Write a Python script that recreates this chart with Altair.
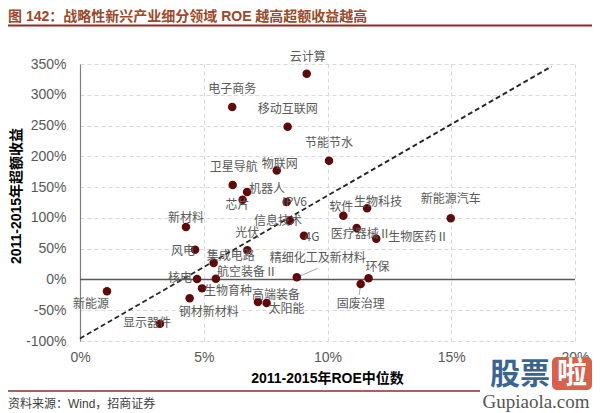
import altair as alt
import pandas as pd

# ---------------- data ----------------
names = ["云计算", "电子商务", "移动互联网", "节能节水", "物联网", "卫星导航", "机器人", "芯片",
         "IPV6", "信息技术", "4G", "软件", "生物科技", "医疗器械Ⅱ", "生物医药Ⅱ", "新能源汽车",
         "环保", "固废治理", "精细化工及新材料", "新材料", "光伏", "风电", "集成电路", "核电",
         "航空装备Ⅱ", "生物育种", "新能源", "钢材新材料", "高端装备", "太阳能", "显示器件"]
roe = [9.16, 6.15, 8.39, 10.06, 7.95, 6.17, 6.75, 6.57,
       8.35, 8.48, 9.05, 10.64, 11.60, 11.18, 11.97, 14.98,
       11.66, 11.34, 8.76, 4.28, 6.76, 4.65, 5.40, 4.73,
       5.49, 4.93, 1.09, 4.43, 7.19, 7.54, 3.23]
excess = [334, 280, 248, 193, 177, 153.5, 142, 129.6,
          126, 95.5, 71, 103.6, 115.5, 83.7, 66.3, 99.3,
          1.8, -7.3, 3.4, 85.3, 47.3, 48.4, 26.8, 0.8,
          1.3, -14.5, -19.3, -30.7, -36.5, -38.2, -71.8]

# label placement offsets in pixels (layout only)
label_dx = [1, 0, 0, 0, 3, 1, 20, -5,
            8, -12, 8, -2, 11, 4, 42, 0,
            9, 0, 21, 0, 0, -12, 17, -17,
            31, 26, -16, 19, 18, 20, -13]
label_dy = [-17, -18, -18, -18, -6, -18, -3, 5,
            0, 0, 1, -9, -6, 6, -2, -19,
            -11, 20, -19, -9, -17, 1, -7, -1,
            -7, 3, 13, 14, -7, 6, -1]

diag_x = [0, 19.05]
diag_y = [-96, 346]

x_ticks = [0, 5, 10, 15, 20]
y_ticks = [-100, -50, 0, 50, 100, 150, 200, 250, 300, 350]

title_text = "图 142：战略性新兴产业细分领域 ROE 越高超额收益越高"
x_title = "2011-2015年ROE中位数"
y_title = "2011-2015年超额收益"
source_text = "资料来源：Wind，招商证券"

# ---------------- layout ----------------
W, H = 495, 277
X_DOM = [0, 20]
Y_DOM = [-100, 350]
ppx = (X_DOM[1] - X_DOM[0]) / W
ppy = (Y_DOM[1] - Y_DOM[0]) / H

df = pd.DataFrame({"name": names, "roe": roe, "excess": excess,
                   "dx": label_dx, "dy": label_dy})
df["lx"] = df["roe"] + df["dx"] * ppx
df["ly"] = df["excess"] - df["dy"] * ppy

xs = alt.Scale(domain=X_DOM, nice=False, zero=False)
ys = alt.Scale(domain=Y_DOM, nice=False, zero=False)

LAT = "Liberation Sans, Noto Sans CJK SC"
CJK = "Noto Sans CJK SC"
GRAY = "#595959"

x_axis = alt.Axis(values=x_ticks, labelExpr="datum.value + '%'", grid=True,
                  gridDash=[4, 3], gridColor="#d9d9d9", domain=False, ticks=False,
                  labelFontSize=14, labelColor=GRAY, labelFont=LAT, labelPadding=9,
                  labelFlush=False, labelOverlap=False, title=None)
y_axis = alt.Axis(values=y_ticks, labelExpr="datum.value + '%'", grid=True,
                  gridDash=[4, 3], gridColor="#d9d9d9", domain=True, domainColor="#7f7f7f",
                  domainWidth=1.2, ticks=False, labelFontSize=14, labelColor=GRAY,
                  labelFont=LAT, labelPadding=14, labelFlush=False, labelOverlap=False,
                  title=None)


def X(f):
    return alt.X(f, scale=xs, axis=x_axis)


def Y(f):
    return alt.Y(f, scale=ys, axis=y_axis)


base = alt.Chart(df)

points = base.mark_circle(size=72, color="#5e0a0a", opacity=1).encode(
    x=X("roe:Q"), y=Y("excess:Q"))

zero = alt.Chart(pd.DataFrame({"z": [0]})).mark_rule(color="#595959", strokeWidth=1.5).encode(
    y=Y("z:Q"))

diag = alt.Chart(pd.DataFrame({"x": diag_x, "y": diag_y})).mark_line(
    color="#262626", strokeWidth=1.8, strokeDash=[5, 3]
).encode(x=X("x:Q"), y=Y("y:Q"))

labels = base.mark_text(font=CJK, fontSize=12, color=GRAY, align="center",
                        baseline="middle").encode(
    x=X("lx:Q"), y=Y("ly:Q"), text="name:N")

lead1 = base.transform_filter(alt.datum.name == "精细化工及新材料").mark_rule(
    color="#a6a6a6", strokeWidth=1, x2Offset=21, y2Offset=-9
).encode(x=X("roe:Q"), x2="roe:Q", y=Y("excess:Q"), y2="excess:Q")
lead2 = base.transform_filter(alt.datum.name == "固废治理").mark_rule(
    color="#a6a6a6", strokeWidth=1, x2Offset=-1.5, y2Offset=11
).encode(x=X("roe:Q"), x2="roe:Q", y=Y("excess:Q"), y2="excess:Q")


def txt(t, x, y, **kw):
    return alt.Chart(pd.DataFrame({"t": [t]})).mark_text(**kw).encode(
        x=alt.value(x), y=alt.value(y), text="t:N")


def hline(x1, x2, y, color, w):
    return alt.Chart(pd.DataFrame({"a": [0]})).mark_rule(color=color, strokeWidth=w).encode(
        x=alt.value(x1), x2=alt.value(x2), y=alt.value(y))


title = txt(title_text, -72, -47, font=LAT, fontSize=14, fontWeight="bold",
            color="#9a4a2a", align="left", baseline="middle")
title_line = hline(-72, 512, -38.5, "#8b2f22", 2)
foot_line = hline(-72, 400, 327, "#8b2f22", 1.5)
foot = txt(source_text, -72, 340, font=LAT, fontSize=12, color="#404040",
           align="left", baseline="middle")
xt = txt(x_title, 247.5, 315, font=LAT, fontSize=14, fontWeight="bold",
         color="#000000", align="center", baseline="middle")
yt = txt(y_title, -63, 132, font=LAT, fontSize=14, fontWeight="bold",
         color="#000000", align="center", baseline="middle", angle=270)

# watermark
wm_box = alt.Chart(pd.DataFrame({"a": [0]})).mark_rect(color="#d9604c", cornerRadius=5).encode(
    x=alt.value(472), x2=alt.value(512), y=alt.value(293), y2=alt.value(326))
wm1 = txt("股票", 440, 311, font=CJK, fontSize=30, fontWeight="bold", color="#3a6591",
          align="center", baseline="middle")
wm2 = txt("啦", 492, 310, font=CJK, fontSize=30, fontWeight="bold", color="#ffffff",
          align="center", baseline="middle")
wm3 = txt("Gupiaola.com", 456, 338, font="Liberation Serif", fontSize=19, color="#555555",
          align="center", baseline="middle")

chart = alt.layer(
    zero, diag, lead1, lead2, points, labels,
    title, title_line, foot_line, foot, xt, yt, wm_box, wm1, wm2, wm3
).properties(
    width=W, height=H,
    padding={"left": 72, "top": 56, "right": 17, "bottom": 72},
    autosize=alt.AutoSizeParams(type="none"),
    background="white",
).configure_view(stroke=None)

chart.save("out.html", embed_options={"renderer": "svg", "actions": False})
